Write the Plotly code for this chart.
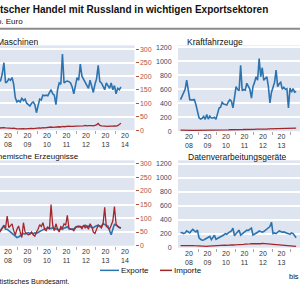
import plotly.graph_objects as go

# ---------------- data (monthly, Jan 2008 - Apr 2014) ----------------
start_year = 2008
masch_exp = [178, 185, 210, 250, 175, 180, 190, 185, 195, 170, 120, 105, 110, 105, 118, 110,
             115, 100, 95, 90, 100, 105, 95, 65, 90, 115, 112, 130, 128, 130, 128, 140,
             150, 135, 130, 95, 150, 175, 170, 282, 175, 180, 182, 180, 175, 160, 135, 165,
             195, 185, 245, 200, 190, 180, 170, 155, 185, 165, 140, 170, 190, 240, 180, 175,
             160, 150, 175, 165, 155, 175, 150, 165, 135, 155, 150, 160]
masch_imp = [8, 9, 8, 10, 9, 8, 9, 8, 7, 8, 6, 5, 5, 6, 5, 6, 5, 6, 7, 6, 7, 6, 7, 8,
             8, 9, 8, 10, 9, 10, 11, 10, 12, 11, 12, 11, 12, 13, 12, 14, 13, 14, 13, 15, 14, 13,
             14, 15, 15, 16, 15, 17, 16, 18, 16, 17, 18, 17, 16, 18, 20, 25, 18, 16, 15, 14,
             15, 14, 15, 14, 15, 16, 15, 17, 20, 26]
kfz_exp = [452, 500, 540, 600, 734, 600, 452, 450, 455, 452, 380, 280, 193, 175, 185, 212,
           170, 240, 175, 215, 190, 190, 200, 170, 250, 334, 345, 414, 390, 380, 375, 420,
           452, 430, 334, 480, 640, 600, 580, 946, 580, 600, 590, 687, 650, 600, 475, 640,
           700, 781, 730, 1040, 780, 910, 730, 760, 780, 640, 405, 560, 650, 700, 875, 640,
           680, 700, 600, 630, 600, 610, 334, 620, 560, 610, 560, 570]
kfz_imp = [15, 16, 15, 17, 16, 15, 14, 15, 13, 12, 12, 11, 10, 11, 12, 11, 12, 13, 12, 14,
           13, 14, 15, 14, 16, 17, 18, 17, 19, 18, 20, 19, 21, 20, 22, 21, 22, 23, 22, 24,
           23, 25, 24, 26, 25, 27, 26, 28, 27, 29, 28, 30, 29, 31, 30, 32, 31, 33, 34, 36,
           38, 40, 42, 41, 44, 43, 45, 42, 44, 46, 43, 45, 47, 46, 48, 45]
chem_exp = [47, 55, 65, 75, 60, 60, 55, 50, 45, 40, 38, 30, 32, 35, 40, 45, 42, 45, 48, 45,
            46, 44, 47, 45, 50, 52, 55, 58, 60, 62, 66, 64, 62, 66, 60, 62, 60, 58, 62, 60,
            65, 66, 70, 62, 60, 62, 60, 68, 70, 72, 70, 68, 72, 75, 70, 72, 70, 68, 65, 70,
            72, 75, 70, 72, 80, 78, 75, 72, 55, 40, 60, 78, 75, 70, 68, 65]
chem_imp = [47, 55, 60, 72, 65, 108, 66, 75, 80, 55, 40, 60, 72, 50, 30, 84, 50, 45, 40, 42,
            50, 40, 35, 50, 60, 77, 70, 84, 60, 55, 68, 60, 150, 75, 55, 80, 60, 50, 70, 65,
            80, 75, 111, 65, 60, 60, 55, 65, 70, 68, 70, 62, 75, 65, 72, 60, 80, 70, 50, 45,
            60, 75, 72, 65, 80, 140, 70, 65, 60, 75, 90, 143, 80, 70, 65, 65]
dv_exp = [212, 215, 200, 210, 240, 230, 210, 240, 260, 240, 225, 250, 141, 120, 106, 110,
          120, 130, 150, 160, 115, 140, 177, 120, 130, 140, 155, 170, 180, 200, 190, 210,
          220, 240, 278, 170, 200, 220, 250, 180, 200, 220, 235, 250, 245, 260, 278, 180,
          190, 200, 220, 240, 225, 220, 230, 250, 260, 280, 300, 363, 200, 210, 200, 220,
          240, 230, 220, 225, 220, 210, 200, 190, 210, 200, 170, 141]
dv_imp = [30, 32, 28, 30, 34, 30, 28, 32, 30, 28, 26, 24, 20, 18, 20, 22, 20, 18, 22, 24,
          22, 26, 24, 28, 30, 28, 32, 30, 34, 36, 34, 38, 36, 40, 38, 36, 40, 42, 44, 42,
          46, 48, 50, 48, 52, 54, 56, 55, 58, 56, 60, 58, 56, 60, 58, 55, 52, 54, 50, 48,
          45, 42, 40, 38, 36, 35, 32, 34, 30, 28, 26, 28, 24, 22, 20, 18]

panel_titles = ["Maschinen", "Kraftfahrzeuge", "Chemische Erzeugnisse", "Datenverarbeitungsgeräte"]
year_labels = ["20<br>08", "20<br>09", "20<br>10", "20<br>11", "20<br>12", "20<br>13", "20<br>14"]
left_ticks = [0, 50, 100, 150, 200, 250, 300]
right_ticks = [0, 200, 400, 600, 800, 1000, 1200]
legend_names = ["Exporte", "Importe"]

BLUE = "#2c74b0"
RED = "#a3262b"
BG = "#dfe4f1"
LEFT_LBL = "#b4533f"
RIGHT_LBL = "#2d4c6d"

n = len(masch_exp)
xs = [start_year + (m + 0.5) / 12 for m in range(n)]

W = H = 300.0
def px(x):
    return x / W
def py(y):
    return 1 - y / H

fig = go.Figure()
series = [(masch_exp, masch_imp), (kfz_exp, kfz_imp), (chem_exp, chem_imp), (dv_exp, dv_imp)]
for i, (e, im) in enumerate(series):
    k = "" if i == 0 else str(i + 1)
    fig.add_trace(go.Scatter(x=xs, y=e, mode="lines", line=dict(color=BLUE, width=1.6),
                             xaxis="x" + k, yaxis="y" + k, showlegend=False, name=legend_names[0]))
    fig.add_trace(go.Scatter(x=xs, y=im, mode="lines", line=dict(color=RED, width=1.3),
                             xaxis="x" + k, yaxis="y" + k, showlegend=False, name=legend_names[1]))

font = "Liberation Sans, Arial, sans-serif"
tickfont = dict(family=font, size=7, color="#333333")
year_mid = [y + 0.5 for y in range(2008, 2015)]
year_bound = [y for y in range(2009, 2015)]

# left panels: year width 19.5 px; right panels 18.5 px
left_range = [2008.5 - 8 / 19.5, 2008.5 - 8 / 19.5 + 134.5 / 19.5]
right_range = [2008.5 - 11 / 18.5, 2008.5 - 11 / 18.5 + 122 / 18.5]

def xaxis(domain, rng, anchor):
    return dict(domain=domain, range=rng, anchor=anchor, tickvals=year_mid, ticktext=year_labels,
                showgrid=False, zeroline=False, ticks="", showline=False,
                tickfont=tickfont, fixedrange=True,
                minor=dict(tickvals=year_bound, ticks="outside", ticklen=3,
                           tickcolor="#aaaaaa", showgrid=False))

def yaxis_left_panel(domain, anchor, top):
    return dict(domain=domain, anchor=anchor, side="right", range=[0, top],
                tickvals=left_ticks, showgrid=True, gridcolor="white", gridwidth=2,
                zeroline=False, ticks="outside", ticklen=3, tickcolor=LEFT_LBL,
                tickfont=dict(family=font, size=7, color=LEFT_LBL))

def yaxis_right_panel(domain, anchor, top):
    return dict(domain=domain, anchor=anchor, side="left", range=[0, top],
                tickvals=right_ticks, showgrid=True, gridcolor="white", gridwidth=2,
                zeroline=False, ticks="outside", ticklen=4, tickcolor="rgba(0,0,0,0)",
                tickfont=dict(family=font, size=7, color=RIGHT_LBL))

xl = [px(0), px(134.5)]
xr = [px(178), 1]
fig.update_layout(
    width=300, height=300, margin=dict(l=0, r=0, t=0, b=0),
    paper_bgcolor="white", plot_bgcolor=BG, showlegend=False,
    xaxis=xaxis(xl, left_range, "y"), xaxis2=xaxis(xr, right_range, "y2"),
    xaxis3=xaxis(xl, left_range, "y3"), xaxis4=xaxis(xr, right_range, "y4"),
    yaxis=yaxis_left_panel([py(131), py(45)], "x", 314),
    yaxis2=yaxis_right_panel([py(132), py(45)], "x2", 1230),
    yaxis3=yaxis_left_panel([py(248), py(161.5)], "x3", 312),
    yaxis4=yaxis_right_panel([py(250), py(161.5)], "x4", 1245),
)

ann = []
def add(text, x, y, xanchor, size):
    ann.append(dict(text=text, x=px(x), y=py(y), xanchor=xanchor, yanchor="middle",
                    xref="paper", yref="paper", showarrow=False,
                    font=dict(family=font, size=size, color="#111111")))

add("<b>Deutscher Handel mit Russland in wichtigen Exportsektoren</b>", 270, 9, "right", 10.0)
add("in Mio. Euro", 25, 21, "right", 8)
add(panel_titles[0], 40, 42, "right", 8.5)
add(panel_titles[1], 185, 42, "left", 8.5)
add(panel_titles[2], 81, 158, "right", 8)
add(panel_titles[3], 186, 158, "left", 8.5)
add(legend_names[0], 119, 273, "left", 8)
add(legend_names[1], 172, 273, "left", 8)
add("Quelle: Statistisches Bundesamt.", 71, 284, "right", 7.2)
add("bis April 2014", 287, 279, "left", 7.5)
fig.update_layout(annotations=ann)

fig.update_layout(shapes=[
    dict(type="line", xref="paper", yref="paper", x0=0, x1=1, y0=py(28), y1=py(28),
         line=dict(color="#8c8c8c", width=2)),
    dict(type="line", xref="paper", yref="paper", x0=px(100), x1=px(119), y0=py(273), y1=py(273),
         line=dict(color=BLUE, width=1.5)),
    dict(type="line", xref="paper", yref="paper", x0=px(160), x1=px(172), y0=py(273), y1=py(273),
         line=dict(color=RED, width=1.5)),
])

fig.write_html("out.html")
